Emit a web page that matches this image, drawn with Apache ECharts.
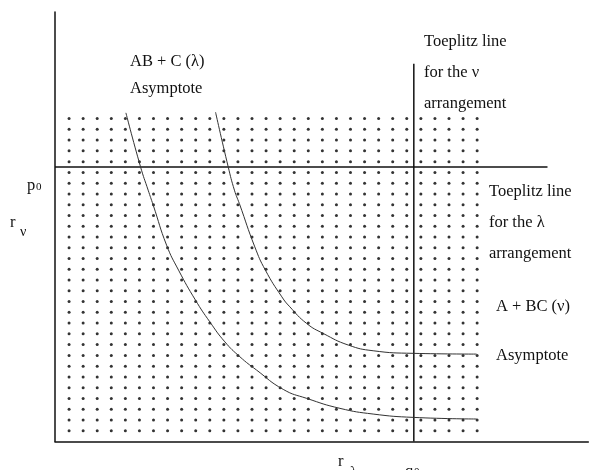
<!DOCTYPE html>
<html>
<head>
<meta charset="utf-8">
<script src="https://cdn.jsdelivr.net/npm/echarts@6/dist/echarts.min.js"></script>
<style>
  html, body { margin: 0; padding: 0; background: #fff; }
  #main { width: 590px; height: 470px; }
</style>
</head>
<body>
<div id="main"></div>
<script>
const chart = echarts.init(document.getElementById('main'))

// lattice of points: column / row indices
const dotCols = 30
const dotRows = 30

// AB + C (lambda) curve, lower one
const curveLow = [
  [4.04, 29.53], [5.08, 24.51], [5.62, 22.35], [5.98, 20.96], [6.93, 17.24],
  [7.78, 14.92], [8.98, 12.14], [10.0, 10.12], [11.07, 8.26], [12.14, 6.87],
  [13.32, 5.64], [15.22, 3.84], [16.88, 3.01], [19.25, 2.08], [21.61, 1.55],
  [24.46, 1.24], [28.96, 1.09]
]

// A + BC (nu) curve, upper one
const curveHigh = [
  [10.41, 29.59], [11.31, 24.51], [11.75, 22.35], [12.1, 21.11], [13.2, 17.08],
  [13.95, 14.92], [15.12, 12.44], [15.69, 11.51], [16.88, 9.97], [18.06, 9.04],
  [19.84, 7.96], [21.61, 7.43], [24.46, 7.19], [28.96, 7.12]
]

// Toeplitz lines
const p0Line = [[-1, 24.5], [34, 24.5]]
const q0Line = [[24.5, 34.1], [24.5, -1]]

let dots = []
for (let i = 0; i < dotCols; i++) {
  for (let j = 0; j < dotRows; j++) {
    dots.push([i, j])
  }
}

const serif = 'Liberation Serif'
const fs = 16.5

function txt(x, y, text, size) {
  return {
    type: 'text',
    left: x,
    top: y,
    style: {
      text: text,
      fill: '#111',
      font: (size || fs) + 'px "' + serif + '"',
      verticalAlign: 'middle'
    }
  }
}

let curveStyle = {
  type: 'line',
  smooth: 0.5,
  symbol: 'none',
  lineStyle: { color: '#333', width: 1 }
}

let option = {
  backgroundColor: '#fff',
  animation: false,
  grid: {
    left: 55,
    top: 12,
    right: 1.7,
    bottom: 28.5
  },
  xAxis: {
    type: 'value',
    min: -1,
    max: 36.9,
    axisLine: { onZero: false, lineStyle: { color: '#111', width: 1.5 } },
    axisTick: { show: false },
    axisLabel: { show: false },
    splitLine: { show: false }
  },
  yAxis: {
    type: 'value',
    min: -1,
    max: 38.9,
    axisLine: { show: true, onZero: false, lineStyle: { color: '#111', width: 1.5 } },
    axisTick: { show: false },
    axisLabel: { show: false },
    splitLine: { show: false }
  },
  series: [
    {
      type: 'scatter',
      data: dots,
      symbolSize: 3,
      itemStyle: { color: '#000' },
      silent: true
    },
    {
      type: 'line',
      data: p0Line,
      symbol: 'none',
      lineStyle: { color: '#111', width: 1.5 }
    },
    {
      type: 'line',
      data: q0Line,
      symbol: 'none',
      lineStyle: { color: '#111', width: 1.5 }
    },
    Object.assign({ data: curveLow }, curveStyle),
    Object.assign({ data: curveHigh }, curveStyle)
  ],
  graphic: [
    txt(130, 53, 'AB + C (λ)'),
    txt(130, 80, 'Asymptote'),
    txt(424, 33, 'Toeplitz line'),
    txt(424, 64, 'for the ν'),
    txt(424, 95, 'arrangement'),
    txt(489, 183, 'Toeplitz line'),
    txt(489, 214, 'for the λ'),
    txt(489, 245, 'arrangement'),
    txt(496, 298, 'A + BC (ν)'),
    txt(496, 347, 'Asymptote'),
    txt(27, 177, 'p'),
    txt(36, 182, '0', 11),
    txt(10, 214, 'r'),
    txt(20, 225, 'ν', 14),
    txt(338, 453, 'r'),
    txt(350, 465, 'λ', 14),
    txt(405, 463, 'q'),
    txt(414, 467, '0', 11)
  ]
}
chart.setOption(option)
</script>
</body>
</html>
